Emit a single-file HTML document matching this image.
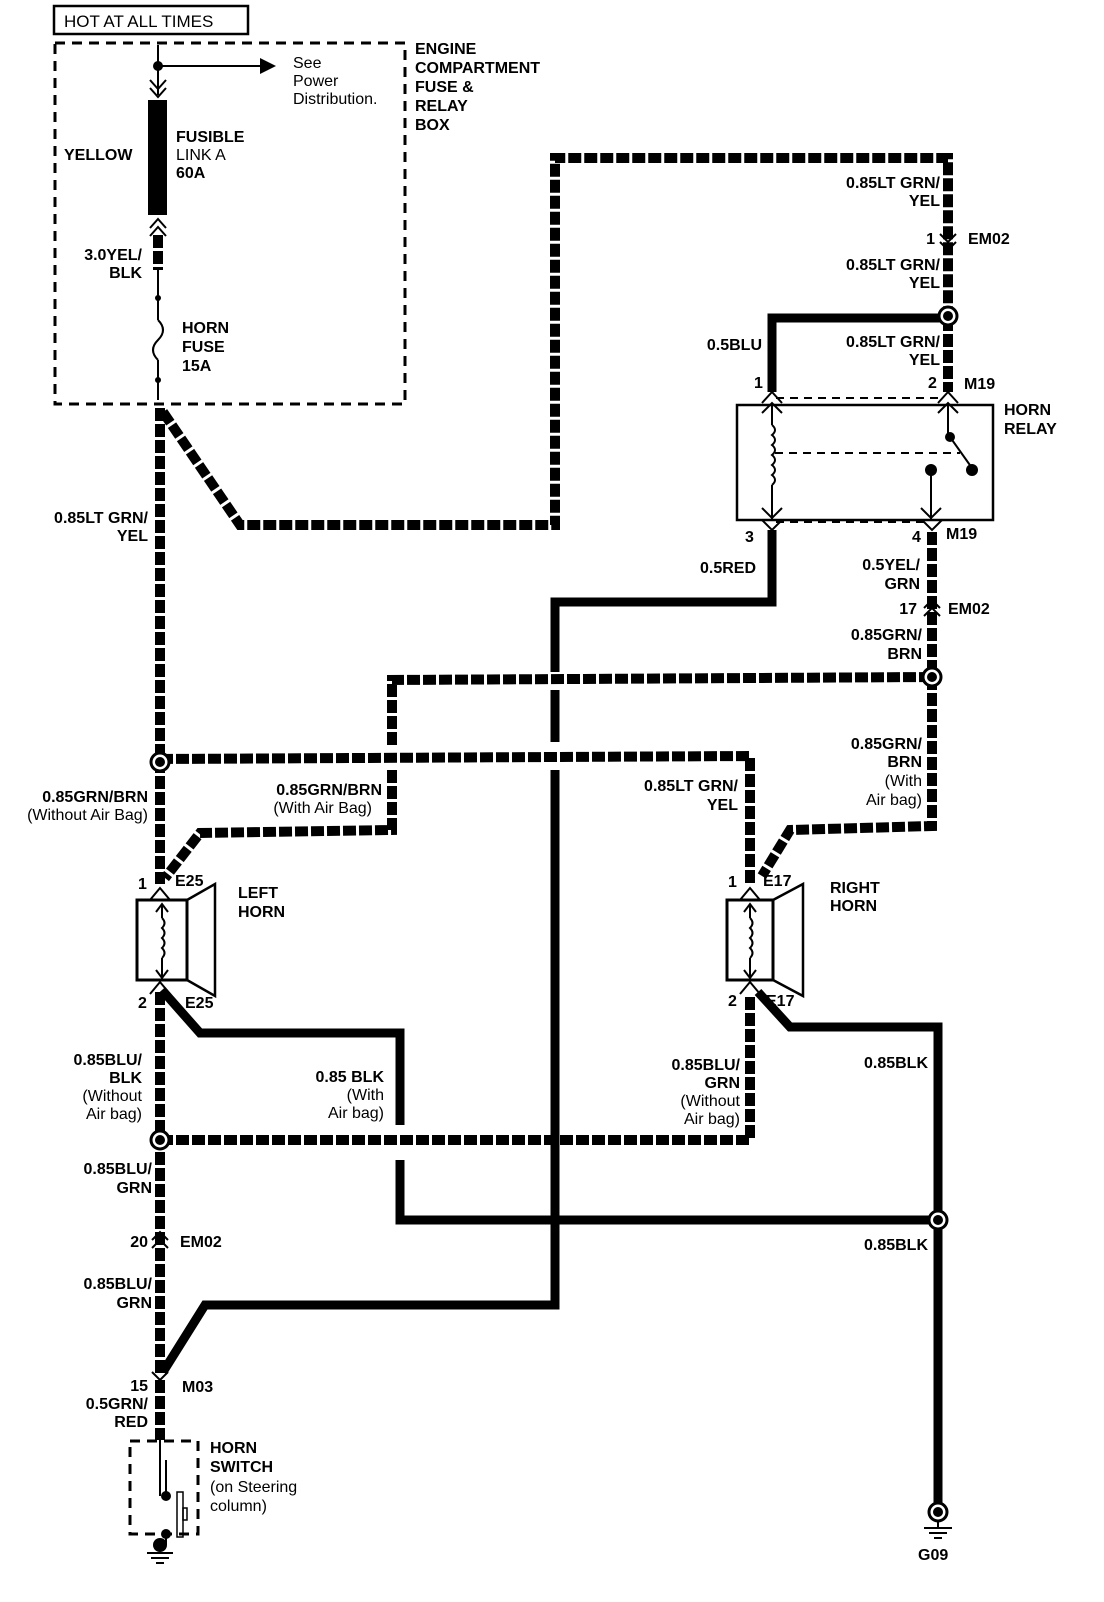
<!DOCTYPE html>
<html><head><meta charset="utf-8"><style>
html,body{margin:0;padding:0;background:#fff;}
svg{display:block;}
text{font-family:"Liberation Sans",sans-serif;font-size:16px;font-weight:bold;fill:#000;}
.n{font-weight:normal;}
</style></head><body>
<svg width="1104" height="1602" viewBox="0 0 1104 1602" xmlns="http://www.w3.org/2000/svg">
<defs>
<style>
.s{fill:none;stroke:#000;stroke-width:10;stroke-dasharray:13 3;}
.b{fill:none;stroke:#000;stroke-width:9;}
.t{fill:none;stroke:#000;stroke-width:2;}
.d{fill:none;stroke:#000;stroke-width:3;stroke-dasharray:10 7;}
</style>
</defs>
<rect x="54" y="6" width="194" height="28" fill="none" stroke="#000" stroke-width="2.5"/>
<text x="64" y="27" class="n" style="font-size:17px">HOT AT ALL TIMES</text>
<rect x="55" y="43" width="350" height="361" class="d"/>
<text x="415" y="54">ENGINE</text><text x="415" y="73">COMPARTMENT</text><text x="415" y="92">FUSE &amp;</text><text x="415" y="111">RELAY</text><text x="415" y="130">BOX</text>
<line x1="158" y1="45" x2="158" y2="95" class="t"/>
<circle cx="158" cy="66" r="5"/>
<line x1="158" y1="66" x2="262" y2="66" class="t" stroke-width="3"/>
<polygon points="260,58 276,66 260,74"/>
<text x="293" y="68" class="n">See</text><text x="293" y="86" class="n">Power</text><text x="293" y="104" class="n">Distribution.</text>
<polyline points="150,80 158,89 166,80" class="t"/><polyline points="150,88 158,97 166,88" class="t"/>
<rect x="148" y="100" width="19" height="115"/>
<text x="64" y="160">YELLOW</text>
<text x="176" y="142">FUSIBLE</text><text x="176" y="160" class="n">LINK A</text><text x="176" y="178">60A</text>
<polyline points="150,228 158,219 166,228" class="t"/><polyline points="150,236 158,227 166,236" class="t"/>
<line x1="158" y1="235" x2="158" y2="270" class="s" stroke-width="7"/>
<text x="142" y="260" text-anchor="end">3.0YEL/</text><text x="142" y="278" text-anchor="end">BLK</text>
<line x1="158" y1="270" x2="158" y2="320" class="t"/>
<circle cx="158" cy="298" r="3"/>
<path d="M158 320 q10 10 0 20 q-10 10 0 20" class="t"/>
<line x1="158" y1="360" x2="158" y2="400" class="t"/>
<circle cx="158" cy="380" r="3"/>
<text x="182" y="333">HORN</text><text x="182" y="352">FUSE</text><text x="182" y="371">15A</text>
<!-- main left vertical striped (broken at horn) -->
<line x1="160" y1="408" x2="160" y2="884" class="s"/>
<line x1="160" y1="992" x2="160" y2="1375" class="s"/>
<text x="148" y="523" text-anchor="end">0.85LT GRN/</text><text x="148" y="541" text-anchor="end">YEL</text>
<polyline points="163,412 240,525 555,525 555,158 948,158 948,316" class="s"/>
<text x="940" y="188" text-anchor="end">0.85LT GRN/</text><text x="940" y="206" text-anchor="end">YEL</text>
<polyline points="940,234 948,242 956,234" class="t"/><polyline points="940,242 948,250 956,242" class="t"/>
<text x="935" y="244" text-anchor="end">1</text><text x="968" y="244">EM02</text>
<text x="940" y="270" text-anchor="end">0.85LT GRN/</text><text x="940" y="288" text-anchor="end">YEL</text>
<polyline points="948,318 772,318 772,392" class="b"/>
<line x1="948" y1="318" x2="948" y2="392" class="s"/>
<circle cx="948" cy="316" r="9" fill="#fff" stroke="#000" stroke-width="3"/><circle cx="948" cy="316" r="5"/>
<text x="762" y="350" text-anchor="end">0.5BLU</text>
<text x="940" y="347" text-anchor="end">0.85LT GRN/</text><text x="940" y="365" text-anchor="end">YEL</text>
<text x="754" y="388">1</text><text x="928" y="388">2</text><text x="964" y="389">M19</text>
<line x1="776" y1="398" x2="944" y2="398" stroke="#000" stroke-width="2" stroke-dasharray="8 6"/>
<rect x="737" y="405" width="256" height="115" fill="none" stroke="#000" stroke-width="2.5"/>
<text x="1004" y="415">HORN</text><text x="1004" y="434">RELAY</text>
<polyline points="762,403 772,392 782,403" class="t"/><polyline points="762,413 772,403 782,413" class="t"/>
<polyline points="938,403 948,392 958,403" class="t"/><polyline points="938,413 948,403 958,413" class="t"/>
<line x1="772" y1="405" x2="772" y2="425" class="t"/>
<path d="M772 425 q6 5 0 10 q6 5 0 10 q6 5 0 10 q6 5 0 10 q6 5 0 10 q6 5 0 10" class="t"/>
<line x1="772" y1="485" x2="772" y2="520" class="t"/>
<polyline points="762,508 772,518 782,508" class="t"/>
<line x1="775" y1="453" x2="960" y2="453" stroke="#000" stroke-width="2" stroke-dasharray="8 6"/>
<line x1="948" y1="405" x2="948" y2="437" class="t"/><circle cx="950" cy="437" r="5"/>
<line x1="950" y1="437" x2="972" y2="468" class="t"/><circle cx="972" cy="470" r="6"/>
<circle cx="931" cy="470" r="6"/><line x1="931" y1="470" x2="931" y2="520" class="t"/>
<polyline points="921,508 931,518 941,508" class="t"/>
<line x1="776" y1="522" x2="930" y2="522" stroke="#000" stroke-width="2" stroke-dasharray="8 6"/>
<polyline points="762,520 772,530 782,520" class="t"/><polyline points="922,520 932,530 942,520" class="t"/>
<text x="745" y="542">3</text><text x="912" y="542">4</text><text x="946" y="539">M19</text>
<polyline points="772,530 772,602 555,602 555,672" class="b"/>
<line x1="555" y1="690" x2="555" y2="742" class="b"/>
<line x1="555" y1="770" x2="555" y2="1282" class="b"/>
<polyline points="555,1282 555,1305 205,1305 163,1372" class="b"/>
<text x="756" y="573" text-anchor="end">0.5RED</text>
<line x1="932" y1="532" x2="932" y2="677" class="s"/>
<text x="920" y="570" text-anchor="end">0.5YEL/</text><text x="920" y="589" text-anchor="end">GRN</text>
<polyline points="924,608 932,600 940,608" class="t"/><polyline points="924,616 932,608 940,616" class="t"/>
<text x="917" y="614" text-anchor="end">17</text><text x="948" y="614">EM02</text>
<text x="922" y="640" text-anchor="end">0.85GRN/</text><text x="922" y="659" text-anchor="end">BRN</text>
<polyline points="932,677 392,680 392,745" class="s"/>
<polyline points="392,770 392,830 200,833 165,878" class="s"/>
<polyline points="932,677 932,826 790,830 762,876" class="s"/>
<circle cx="932" cy="677" r="9" fill="#fff" stroke="#000" stroke-width="3"/><circle cx="932" cy="677" r="5"/>
<text x="922" y="749" text-anchor="end">0.85GRN/</text><text x="922" y="767" text-anchor="end">BRN</text><text x="922" y="786" text-anchor="end" class="n">(With</text><text x="922" y="805" text-anchor="end" class="n">Air bag)</text>
<text x="382" y="795" text-anchor="end">0.85GRN/BRN</text><text x="372" y="813" text-anchor="end" class="n">(With Air Bag)</text>
<polyline points="160,759 750,756 750,884" class="s"/>
<circle cx="160" cy="762" r="9" fill="#fff" stroke="#000" stroke-width="3"/><circle cx="160" cy="762" r="5"/>
<text x="148" y="802" text-anchor="end">0.85GRN/BRN</text><text x="148" y="820" text-anchor="end" class="n">(Without Air Bag)</text>
<text x="738" y="791" text-anchor="end">0.85LT GRN/</text><text x="738" y="810" text-anchor="end">YEL</text>
<!-- left horn -->
<text x="138" y="889">1</text><text x="175" y="886">E25</text>
<text x="238" y="898">LEFT</text><text x="238" y="917">HORN</text>
<polyline points="150,900 160,888 170,900" class="t"/>
<rect x="137" y="900" width="50" height="80" fill="none" stroke="#000" stroke-width="3"/>
<polygon points="187,900 215,884 215,996 187,980" fill="none" stroke="#000" stroke-width="2.5"/>
<line x1="162" y1="904" x2="162" y2="918" class="t"/><polyline points="156,912 162,904 168,912" class="t"/>
<path d="M162 918 q5 5 0 10 q5 5 0 10 q5 5 0 10 q5 5 0 10" class="t"/>
<line x1="162" y1="958" x2="162" y2="978" class="t"/><polyline points="156,970 162,978 168,970" class="t"/>
<polyline points="150,994 160,982 170,994" class="t"/>
<text x="138" y="1008">2</text><text x="185" y="1008">E25</text>
<!-- right horn -->
<text x="728" y="887">1</text><text x="763" y="886">E17</text>
<text x="830" y="893">RIGHT</text><text x="830" y="911">HORN</text>
<polyline points="740,900 750,888 760,900" class="t"/>
<rect x="727" y="900" width="46" height="80" fill="none" stroke="#000" stroke-width="3"/>
<polygon points="773,900 803,884 803,996 773,980" fill="none" stroke="#000" stroke-width="2.5"/>
<line x1="750" y1="904" x2="750" y2="918" class="t"/><polyline points="744,912 750,904 756,912" class="t"/>
<path d="M750 918 q5 5 0 10 q5 5 0 10 q5 5 0 10 q5 5 0 10" class="t"/>
<line x1="750" y1="958" x2="750" y2="978" class="t"/><polyline points="744,970 750,978 756,970" class="t"/>
<polyline points="740,994 750,982 760,994" class="t"/>
<text x="728" y="1006">2</text><text x="766" y="1006">E17</text>
<polyline points="162,990 200,1033 400,1033 400,1125" class="b"/>
<polyline points="400,1160 400,1220 938,1220" class="b"/>
<polyline points="758,992 790,1027 938,1027 938,1505" class="b"/>
<circle cx="938" cy="1220" r="9" fill="#fff" stroke="#000" stroke-width="3"/><circle cx="938" cy="1220" r="5"/>
<text x="384" y="1082" text-anchor="end">0.85 BLK</text><text x="384" y="1100" text-anchor="end" class="n">(With</text><text x="384" y="1118" text-anchor="end" class="n">Air bag)</text>
<text x="928" y="1068" text-anchor="end">0.85BLK</text>
<text x="928" y="1250" text-anchor="end">0.85BLK</text>
<polyline points="160,1140 750,1140 750,996" class="s"/>
<circle cx="160" cy="1140" r="9" fill="#fff" stroke="#000" stroke-width="3"/><circle cx="160" cy="1140" r="5"/>
<text x="740" y="1070" text-anchor="end">0.85BLU/</text><text x="740" y="1088" text-anchor="end">GRN</text><text x="740" y="1106" text-anchor="end" class="n">(Without</text><text x="740" y="1124" text-anchor="end" class="n">Air bag)</text>
<text x="142" y="1065" text-anchor="end">0.85BLU/</text><text x="142" y="1083" text-anchor="end">BLK</text><text x="142" y="1101" text-anchor="end" class="n">(Without</text><text x="142" y="1119" text-anchor="end" class="n">Air bag)</text>
<text x="152" y="1174" text-anchor="end">0.85BLU/</text><text x="152" y="1193" text-anchor="end">GRN</text>
<polyline points="152,1240 160,1232 168,1240" class="t"/><polyline points="152,1248 160,1240 168,1248" class="t"/>
<text x="148" y="1247" text-anchor="end">20</text><text x="180" y="1247">EM02</text>
<text x="152" y="1289" text-anchor="end">0.85BLU/</text><text x="152" y="1308" text-anchor="end">GRN</text>
<polyline points="152,1372 160,1380 168,1372" class="t"/>
<line x1="160" y1="1380" x2="160" y2="1440" class="s" stroke-width="8"/>
<text x="148" y="1391" text-anchor="end">15</text><text x="182" y="1392">M03</text>
<text x="148" y="1409" text-anchor="end">0.5GRN/</text><text x="148" y="1427" text-anchor="end">RED</text>
<rect x="130" y="1441" width="68" height="93" class="d"/>
<line x1="160" y1="1440" x2="160" y2="1496" class="t" stroke-width="2.5"/>
<circle cx="166" cy="1496" r="5"/><circle cx="166" cy="1534" r="5"/>
<line x1="166" y1="1460" x2="166" y2="1496" class="t" stroke-width="2.5"/>
<line x1="166" y1="1534" x2="166" y2="1545" class="t" stroke-width="2.5"/>
<rect x="177" y="1492" width="6" height="45" fill="none" stroke="#000" stroke-width="1.5"/>
<rect x="183" y="1508" width="4" height="12" fill="none" stroke="#000" stroke-width="1.5"/>
<text x="210" y="1453">HORN</text><text x="210" y="1472">SWITCH</text><text x="210" y="1492" class="n">(on Steering</text><text x="210" y="1511" class="n">column)</text>
<circle cx="160" cy="1545" r="7"/>
<line x1="147" y1="1553" x2="173" y2="1553" class="t"/><line x1="151" y1="1558" x2="169" y2="1558" class="t"/><line x1="156" y1="1563" x2="164" y2="1563" class="t"/>
<circle cx="938" cy="1512" r="9" fill="#fff" stroke="#000" stroke-width="3"/><circle cx="938" cy="1512" r="5"/>
<line x1="938" y1="1521" x2="938" y2="1528" class="t"/>
<line x1="924" y1="1528" x2="952" y2="1528" class="t"/><line x1="929" y1="1533" x2="947" y2="1533" class="t"/><line x1="934" y1="1538" x2="942" y2="1538" class="t"/>
<text x="918" y="1560">G09</text>
</svg>
</body></html>
